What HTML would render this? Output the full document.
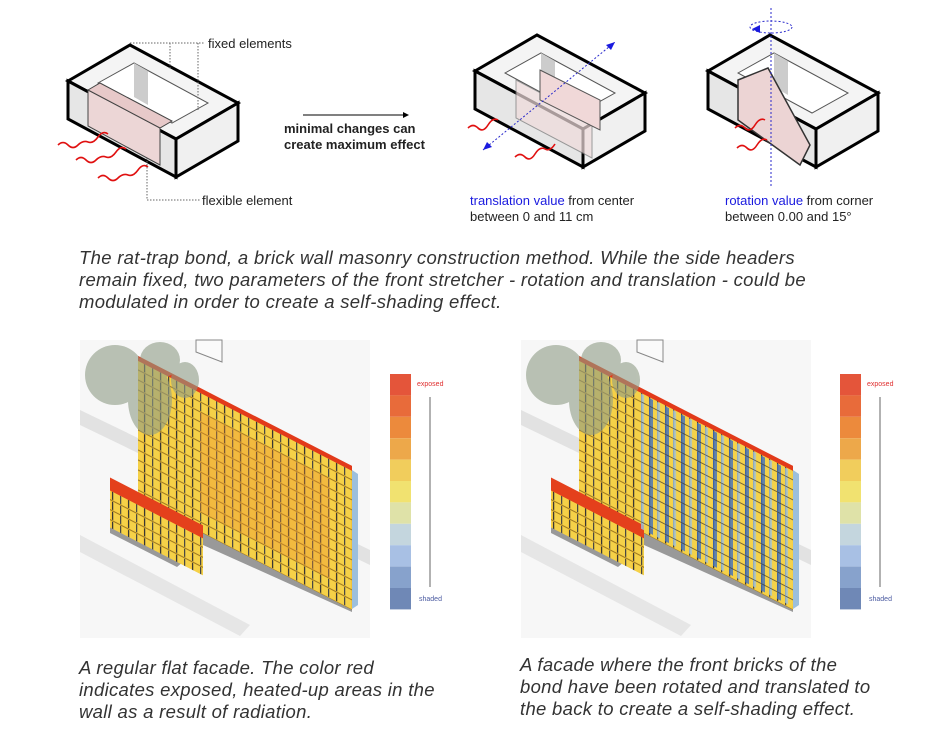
<!DOCTYPE html>
<html><head><meta charset="utf-8"><style>
body{margin:0;width:936px;height:747px;background:#fff;overflow:hidden;position:relative;font-family:"Liberation Sans",sans-serif}
.t{position:absolute;font-size:13px;color:#222;white-space:nowrap}
.cap{position:absolute;font-family:"Liberation Sans",sans-serif;font-style:italic;font-size:18.5px;line-height:22px;color:#333;letter-spacing:0.3px;white-space:nowrap}
.b{color:#1a1adf}
</style></head><body>
<svg width="936" height="747" style="position:absolute;left:0;top:0">
<defs>
<pattern id="br" width="16" height="10" patternUnits="userSpaceOnUse">
<rect width="16" height="10" fill="#f1c23a"/>
<rect x="1" y="1" width="14" height="8" fill="#f5d148"/>
<path d="M0 0H16M0 10H16" stroke="#3a2a10" stroke-width="0.6"/>
<rect x="0" y="1" width="1.2" height="8" fill="#333"/><rect x="8" y="1" width="1.2" height="8" fill="#444"/>
</pattern>
<pattern id="br2" width="16" height="10" patternUnits="userSpaceOnUse">
<rect width="16" height="10" fill="#f4d24a"/>
<rect x="0" y="0" width="4" height="10" fill="#3f6fbf"/>
<rect x="8" y="0" width="3" height="10" fill="#9fc2de"/>
<path d="M0 0H16M0 10H16" stroke="#333" stroke-width="0.7"/>
</pattern>
<g id="unit">
<polygon points="0,36 62,0 170,58 108,94" fill="#f4f4f4" stroke="#000" stroke-width="3"/>
<polygon points="30,38 66,18 140,58 104,78" fill="#fff" stroke="#555" stroke-width="1"/>
<polygon points="66,18 80,26 80,60 66,52" fill="#ccc"/>
<polygon points="0,36 108,94 108,132 0,74" fill="#e6e6e6" stroke="#000" stroke-width="3"/>
<polygon points="108,94 170,58 170,96 108,132" fill="#f0f0f0" stroke="#000" stroke-width="3"/>
</g>
</defs>
<use href="#unit" transform="translate(68,45)"/>
<polygon points="88,90 160,128 160,165 88,126" fill="#ecd6d6" stroke="#444" stroke-width="1"/>
<polygon points="88,90 100,83 172,121 160,128" fill="#e7c9c9" stroke="#444" stroke-width="1"/>
<path d="M58,145 q5,-5 10,0 t10,0 t10,-3 t10,-5 t10,-3" stroke="#e01010" stroke-width="1.6" fill="none"/>
<path d="M76,160 q5,-5 10,0 t10,0 t10,-3 t10,-5 t10,-3" stroke="#e01010" stroke-width="1.6" fill="none"/>
<path d="M98,178 q5,-5 10,0 t10,0 t10,-3 t10,-5 t10,-3" stroke="#e01010" stroke-width="1.6" fill="none"/>
<path d="M130,43 H205 M170,43 V70 M198,43 V110 M147,158 V200 H200" stroke="#666" stroke-dasharray="1.5,1.5" fill="none"/>
<path d="M303,115 H403" stroke="#000" stroke-width="1"/><polygon points="403,112 409,115 403,118"/>
<use href="#unit" transform="translate(475,35)"/>
<polygon points="516,80 592,120 592,158 516,118" fill="#efdcdc" opacity="0.7" stroke="#777"/>
<polygon points="540,70 600,100 600,130 540,100" fill="#f0d8d8" stroke="#555"/>
<path d="M483,150 L615,42" stroke="#2a2acc" stroke-dasharray="2,2"/>
<polygon points="615,42 606,45 611,50" fill="#1a1adf"/><polygon points="483,150 492,147 487,142" fill="#1a1adf"/>
<path d="M468,128 q5,-5 10,0 t10,-3 t10,-5" stroke="#e01010" stroke-width="1.6" fill="none"/>
<path d="M515,157 q5,-5 10,0 t10,-3 t10,-5 t10,-5" stroke="#e01010" stroke-width="1.6" fill="none"/>
<use href="#unit" transform="translate(708,35)"/>
<polygon points="738,80 768,68 810,145 800,165 738,120" fill="#ecd4d4" stroke="#333" stroke-width="1.5"/>
<path d="M771,8 V188" stroke="#2a2acc" stroke-dasharray="2,2"/>
<ellipse cx="771" cy="27" rx="21" ry="6" fill="none" stroke="#2a2acc" stroke-dasharray="2,2"/>
<polygon points="752,29 760,25 760,33" fill="#1a1adf"/>
<path d="M735,128 q5,-5 10,0 t10,-3 t10,-5" stroke="#e01010" stroke-width="1.6" fill="none"/>
<path d="M737,148 q5,-5 10,0 t10,-3 t10,-5" stroke="#e01010" stroke-width="1.6" fill="none"/>

<g id="fac">
<rect x="80" y="340" width="290" height="298" fill="#f7f7f7"/>
<polygon points="80,410 370,550 370,565 80,425" fill="#e2e2e2"/>
<polygon points="80,535 250,625 240,636 80,552" fill="#e6e6e6"/>
<polygon points="196,340 222,340 222,362 196,352" fill="#fafafa" stroke="#888"/>
<polygon points="110,533 177,567 203,545 352,612 352,597 203,530 177,555 110,525" fill="#999"/>
<g transform="matrix(1,0.514,0,1,0,-71)">
<rect x="138" y="360" width="214" height="140" fill="url(#br)"/>
<rect x="138" y="356" width="214" height="5" fill="#e23a1a"/>
</g>
<g transform="matrix(1,0.514,0,1,0,-57)">
<rect x="110" y="490" width="93" height="38" fill="url(#br)"/>
<rect x="110" y="478" width="93" height="13" fill="#e4401c"/>
</g>
<polygon points="352,470 358,474 358,605 352,609" fill="#9cbfdc"/>
<g fill="#8f9c86" opacity="0.6">
<ellipse cx="115" cy="375" rx="30" ry="30"/>
<ellipse cx="150" cy="400" rx="22" ry="35"/>
<ellipse cx="160" cy="360" rx="20" ry="18"/>
<ellipse cx="185" cy="380" rx="14" ry="18"/>
</g>
</g>
<use href="#fac" transform="translate(441,0)"/>
<g transform="matrix(1,0.514,0,1,0,-71)" opacity="0.35">
<rect x="200" y="380" width="130" height="100" fill="#ee9030"/>
</g>
<g transform="matrix(1,0.514,0,1,441,-71)" opacity="0.8">
<rect x="200" y="362" width="152" height="135" fill="url(#br2)"/>
</g>
<g id="leg">
<rect x="390" y="374" width="21" height="21.4" fill="#e4553a"/>
<rect x="390" y="395.4" width="21" height="21.4" fill="#e86b3a"/>
<rect x="390" y="416.8" width="21" height="21.4" fill="#ec8a3c"/>
<rect x="390" y="438.2" width="21" height="21.4" fill="#eda84a"/>
<rect x="390" y="459.6" width="21" height="21.4" fill="#f1cd5c"/>
<rect x="390" y="481" width="21" height="21.4" fill="#f1e270"/>
<rect x="390" y="502.4" width="21" height="21.4" fill="#dfe2a8"/>
<rect x="390" y="523.8" width="21" height="21.4" fill="#c4d6de"/>
<rect x="390" y="545.2" width="21" height="21.4" fill="#a8c0e4"/>
<rect x="390" y="566.6" width="21" height="21.4" fill="#87a2cc"/>
<rect x="390" y="588" width="21" height="21.4" fill="#6f88b6"/>
<path d="M430,397 V587" stroke="#666"/>
<text x="417" y="386" font-size="7" fill="#e03030" font-family="Liberation Sans">exposed</text>
<text x="419" y="601" font-size="7" fill="#4a5aa0" font-family="Liberation Sans">shaded</text>
</g>
<use href="#leg" transform="translate(450,0)"/>
</svg>
<div class="t" style="left:208px;top:36px">fixed elements</div>
<div class="t" style="left:202px;top:193px">flexible element</div>
<div class="t" style="left:284px;top:121px;font-weight:bold">minimal changes can</div>
<div class="t" style="left:284px;top:137px;font-weight:bold">create maximum effect</div>
<div class="t" style="left:470px;top:193px"><span class="b">translation value</span> from center</div>
<div class="t" style="left:470px;top:209px">between 0 and 11 cm</div>
<div class="t" style="left:725px;top:193px"><span class="b">rotation value</span> from corner</div>
<div class="t" style="left:725px;top:209px">between 0.00 and 15°</div>
<div class="cap" style="left:79px;top:247px">The rat-trap bond, a brick wall masonry construction method. While the side headers<br>remain fixed, two parameters of the front stretcher - rotation and translation - could be<br>modulated in order to create a self-shading effect.</div>
<div class="cap" style="left:79px;top:657px">A regular flat facade. The color red<br>indicates exposed, heated-up areas in the<br>wall as a result of radiation.</div>
<div class="cap" style="left:520px;top:654px">A facade where the front bricks of the<br>bond have been rotated and translated to<br>the back to create a self-shading effect.</div>
</body></html>
